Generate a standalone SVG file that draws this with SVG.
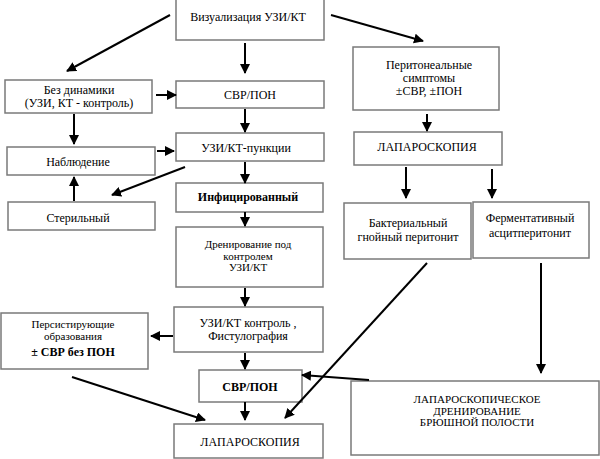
<svg xmlns="http://www.w3.org/2000/svg" width="600" height="459" viewBox="0 0 600 459" font-family="'Liberation Serif', 'DejaVu Serif', serif">
<style>
.b{fill:#fff;stroke:#7a7a7a;stroke-width:1.5}
text{font-family:'Liberation Serif','DejaVu Serif',serif;font-size:12px;fill:#000;text-anchor:middle}
.s{font-size:11px}
.bd{font-weight:bold}
.c line{stroke:#000;stroke-width:2;marker-end:url(#ah)}
</style>
<defs>
<marker id="ah" viewBox="0 0 10 10" refX="9" refY="5" markerWidth="5" markerHeight="5" markerUnits="strokeWidth" orient="auto">
<path d="M0,0 L10,5 L0,10 z" fill="#000"/>
</marker>
</defs>
<rect width="600" height="459" fill="#fff"/>
<g id="n1"><rect class="b" x="176" y="-1" width="148" height="41"/><text x="248" y="21">Визуализация УЗИ/КТ</text></g>
<g id="n2"><rect class="b" x="5" y="80" width="147" height="33"/><text x="79" y="94">Без динамики</text><text x="79" y="107">(УЗИ, КТ - контроль)</text></g>
<g id="n3"><rect class="b" x="176" y="81" width="148" height="27"/><text x="250" y="99">СВР/ПОН</text></g>
<g id="n4"><rect class="b" x="353" y="47" width="146" height="63"/><text x="429" y="69">Перитонеальные</text><text x="429" y="82">симптомы</text><text x="429" y="95">±СВР, ±ПОН</text></g>
<g id="n5"><rect class="b" x="7" y="147" width="148" height="28"/><text x="78" y="166">Наблюдение</text></g>
<g id="n6"><rect class="b" x="176" y="133" width="148" height="28"/><text x="246" y="152">УЗИ/КТ-пункции</text></g>
<g id="n7"><rect class="b" x="8" y="202" width="147" height="28"/><text x="78" y="222">Стерильный</text></g>
<g id="n8"><rect class="b" x="176" y="183" width="147" height="29"/><text class="bd" x="248" y="201">Инфицированный</text></g>
<g id="n9"><rect class="b" x="176" y="227" width="147" height="60"/><text class="s" x="248" y="248">Дренирование под</text><text class="s" x="248" y="259.5">контролем</text><text class="s" x="248" y="271">УЗИ/КТ</text></g>
<g id="n10"><rect class="b" x="354" y="132" width="148" height="33"/><text x="427" y="151">ЛАПАРОСКОПИЯ</text></g>
<g id="n11"><rect class="b" x="344" y="203" width="127" height="56"/><text x="408" y="227">Бактериальный</text><text x="408" y="241">гнойный перитонит</text></g>
<g id="n12"><rect class="b" x="473" y="202" width="116" height="56"/><text x="530" y="222">Ферментативный</text><text x="530" y="237">асцитперитонит</text></g>
<g id="n13"><rect class="b" x="1" y="313" width="147" height="56"/><text class="s" x="73" y="328">Персистирующие</text><text class="s" x="73" y="340">образования</text><text class="bd" x="73" y="356">± СВР без ПОН</text></g>
<g id="n14"><rect class="b" x="174" y="307" width="149" height="45"/><text x="248" y="327">УЗИ/КТ контроль ,</text><text x="248" y="340">Фистулография</text></g>
<g id="n15"><rect class="b" x="199" y="370" width="103" height="32"/><text class="bd" x="250" y="391">СВР/ПОН</text></g>
<g id="n16"><rect class="b" x="174" y="424" width="149" height="34"/><text x="250" y="446">ЛАПАРОСКОПИЯ</text></g>
<g id="n17"><rect class="b" x="351" y="381" width="248" height="74"/><text class="s" x="477" y="403">ЛАПАРОСКОПИЧЕСКОЕ</text><text class="s" x="477" y="414.5">ДРЕНИРОВАНИЕ</text><text class="s" x="477" y="426">БРЮШНОЙ ПОЛОСТИ</text></g>
<g id="connectors" class="c">
<line x1="170" y1="15" x2="67" y2="71"/>
<line x1="245" y1="43" x2="245" y2="73"/>
<line x1="331" y1="15" x2="423" y2="41"/>
<line x1="156" y1="95" x2="176" y2="95"/>
<line x1="74" y1="114" x2="74" y2="144"/>
<line x1="245" y1="109" x2="245" y2="132"/>
<line x1="157" y1="151" x2="174" y2="151"/>
<line x1="185" y1="167" x2="112" y2="195"/>
<line x1="74" y1="201" x2="74" y2="177"/>
<line x1="245" y1="162" x2="245" y2="183"/>
<line x1="245" y1="212" x2="245" y2="226"/>
<line x1="245" y1="288" x2="245" y2="306"/>
<line x1="427" y1="114" x2="427" y2="131"/>
<line x1="406" y1="167" x2="406" y2="198"/>
<line x1="492" y1="169" x2="492" y2="198"/>
<line x1="427" y1="263" x2="285" y2="418"/>
<line x1="541" y1="263" x2="541" y2="373"/>
<line x1="369" y1="380" x2="302" y2="375"/>
<line x1="173" y1="336" x2="151" y2="336"/>
<line x1="245" y1="353" x2="245" y2="369"/>
<line x1="245" y1="402" x2="245" y2="420"/>
<line x1="72" y1="377" x2="205" y2="420"/>
</g>
</svg>
